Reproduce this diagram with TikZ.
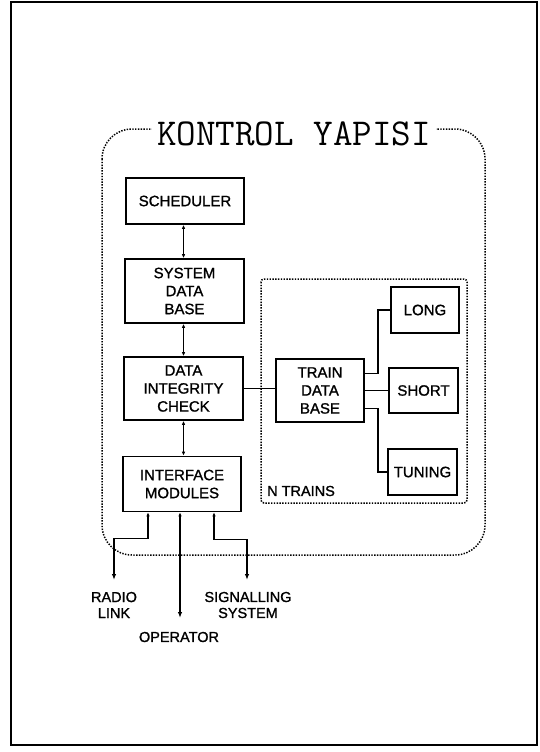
\documentclass[tikz,border=0pt]{standalone}
\usepackage{fontspec}
\setmainfont{Liberation Sans}
\newfontfamily\boxfont[AutoFakeBold=1.2]{Liberation Sans}
\usetikzlibrary{arrows.meta}
\begin{document}
\begin{tikzpicture}[x=1pt,y=-1pt,
  box/.style={draw, line width=1.6pt, align=center, inner sep=0pt,
    font=\boxfont\bfseries\fontsize{15}{18}\selectfont},
  lbl/.style={align=center, inner sep=0pt, font=\boxfont\bfseries\fontsize{14.5}{16}\selectfont},
  dotline/.style={line width=1.5pt, dash pattern=on 1.4pt off 1.4pt},
  conn/.style={line width=1.6pt},
  bidir/.style={conn, {Latex[length=4pt,width=3.5pt]}-{Latex[length=4pt,width=3.5pt]}},
  outarr/.style={conn, {Latex[length=4pt,width=3.5pt]}-{Latex[length=6pt,width=4.5pt]}}
]
\useasboundingbox (0,0) rectangle (539,752);
% outer frame
\draw[line width=1.5pt] (11,2) rectangle (537,745);
% outer dotted rounded box
\draw[dotline, rounded corners=30pt] (102,129) rectangle (485,555);
\node[fill=white, inner xsep=5pt, inner ysep=2pt, font=\fontsize{38}{40}\ttfamily\selectfont] (title) at (294,134) {KONTROL YAPISI};
% N trains dotted box
\draw[dotline, rounded corners=3pt] (261,279) rectangle (467,503);
\node[lbl, anchor=west] (ntr) at (267,491) {N TRAINS};
% left column boxes
\node[box, minimum width=118pt, minimum height=46pt] (sched) at (185,201) {SCHEDULER};
\node[box, minimum width=119pt, minimum height=64pt] (sysdb) at (184.5,291) {SYSTEM\\DATA\\BASE};
\node[box, minimum width=119pt, minimum height=63pt] (dic) at (183.5,388.5) {DATA\\INTEGRITY\\CHECK};
\node[box, minimum width=118pt, minimum height=55pt] (im) at (182,484) {INTERFACE\\MODULES};
% train boxes
\node[box, minimum width=88pt, minimum height=63pt] (tdb) at (320,390.5) {TRAIN\\DATA\\BASE};
\node[box, minimum width=68pt, minimum height=46pt] (long) at (425,310) {LONG};
\node[box, minimum width=69pt, minimum height=45pt] (short) at (423.5,390.5) {SHORT};
\node[box, minimum width=69pt, minimum height=46pt] (tuning) at (422.5,472) {TUNING};
% vertical connectors
\draw[bidir] ([xshift=-1.5pt]sched.south) -- ([xshift=-1.5pt]sched.south |- sysdb.north);
\draw[bidir] ([xshift=-1pt]sysdb.south) -- ([xshift=-1pt]sysdb.south |- dic.north);
\draw[bidir] (dic.south) -- (dic.south |- im.north);
% DIC to train data base
\draw[conn] (dic.east) -- (dic.east -| tdb.west);
% train data base to modes
\draw[conn] ([yshift=17pt]tdb.east) -- ++(13,0) |- (long.west);
\draw[conn] (tdb.east) -- (short.west);
\draw[conn] ([yshift=-18pt]tdb.east) -- ++(13,0) |- (tuning.west);
% interface outputs
\coordinate (rl) at (114,580);
\coordinate (ss) at (247,580);
\coordinate (op) at (180,618);
\draw[outarr] ([xshift=-34pt]im.south) -- ++(0,26) -| (rl);
\draw[outarr] ([xshift=-2pt]im.south) -- (op);
\draw[outarr] ([xshift=32pt]im.south) -- ++(0,27) -| (ss);
% labels
\node[lbl] (radio) at (114,605) {RADIO\\LINK};
\node[lbl] (sig) at (248,605) {SIGNALLING\\SYSTEM};
\node[lbl] (oper) at (179,637) {OPERATOR};
\end{tikzpicture}
\end{document}
